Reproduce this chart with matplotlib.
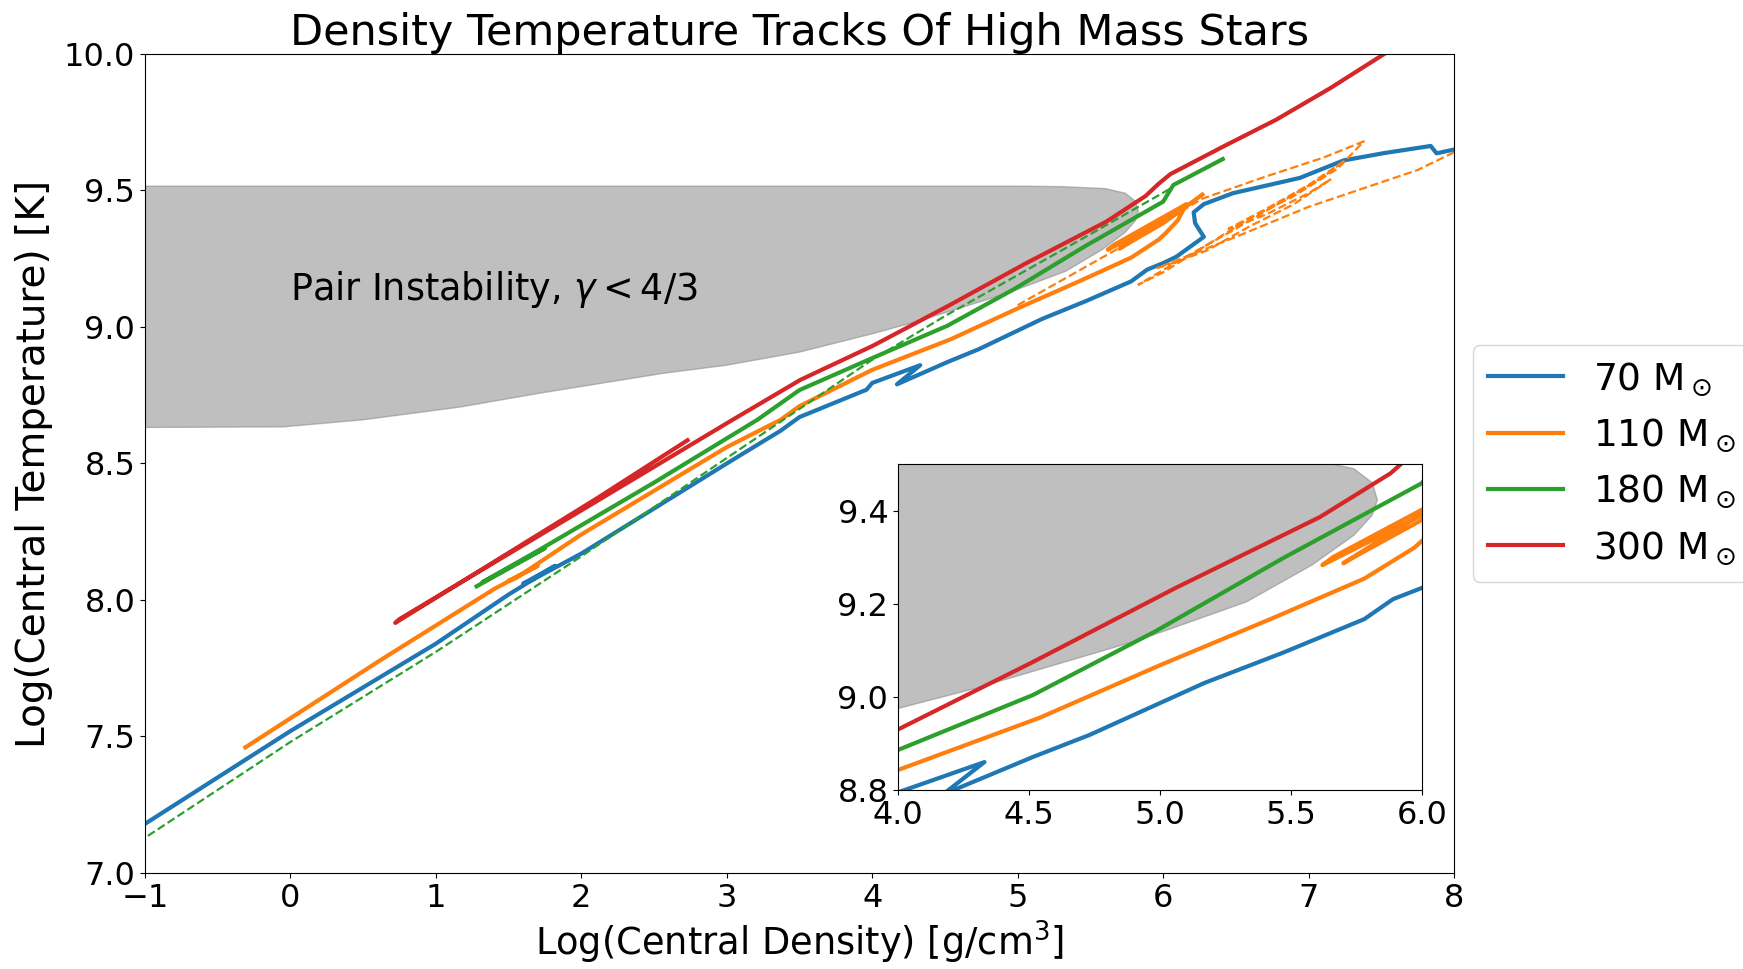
import matplotlib
matplotlib.use("Agg")
import matplotlib.pyplot as plt

# Pair instability region boundary (log rho, log T)
region_x = [-1, -0.05, 0.5, 1.17, 1.72, 2.56, 3.0, 3.5, 4.0, 4.30, 4.92, 5.33, 5.58,
            5.74, 5.81, 5.83, 5.81, 5.74, 5.6, 5.3, 5.0, -1]
region_y = [8.632, 8.634, 8.66, 8.707, 8.758, 8.83, 8.86, 8.908, 8.975, 9.019, 9.122, 9.204,
            9.283, 9.347, 9.39, 9.423, 9.46, 9.49, 9.507, 9.514, 9.516, 9.516]

# 70 Msun
blue_x = [-1, 0, 1, 1.5, 1.82, 1.6, 1.65, 2.0, 3.0, 3.37, 3.5, 3.96, 4.0, 4.33, 4.17, 4.515,
          4.73, 5.17, 5.47, 5.78, 5.89, 6.0, 6.09, 6.28, 6.22, 6.21, 6.28, 6.48, 6.94, 7.24,
          7.52, 7.84, 7.88, 8.0, 8.1]
blue_y = [7.18, 7.52, 7.84, 8.02, 8.125, 8.06, 8.07, 8.17, 8.50, 8.62, 8.67, 8.77, 8.795, 8.86,
          8.79, 8.871, 8.918, 9.03, 9.095, 9.167, 9.21, 9.234, 9.257, 9.33, 9.38, 9.42, 9.45,
          9.49, 9.546, 9.61, 9.637, 9.663, 9.636, 9.65, 9.68]

# 110 Msun
orange_x = [-0.31, 0.62, 1.4, 1.7, 1.5, 1.55, 2.0, 3.0, 3.37, 3.5, 4.0, 4.54, 5.0, 5.43, 5.78,
            5.97, 6.02, 6.1, 6.14, 5.62, 5.66, 6.16, 5.70, 5.74, 6.0, 6.27]
orange_y = [7.46, 7.78, 8.04, 8.125, 8.07, 8.08, 8.24, 8.56, 8.66, 8.71, 8.843, 8.955, 9.068,
            9.169, 9.254, 9.32, 9.345, 9.39, 9.43, 9.283, 9.30, 9.45, 9.287, 9.30, 9.38, 9.485]
orange_dash_x = [5.0, 5.4, 5.8, 6.27, 6.7, 7.1, 7.38, 7.2, 6.9, 6.6, 6.3, 6.0, 5.83, 6.1, 6.5,
                 6.85, 7.1, 7.25, 7.0, 6.7, 6.45, 6.7, 7.0, 7.15, 6.9, 6.6, 6.3, 6.1, 5.96, 6.5,
                 7.0, 7.5, 7.75, 8.0, 8.1]
orange_dash_y = [9.08, 9.20, 9.32, 9.47, 9.55, 9.62, 9.68, 9.58, 9.48, 9.40, 9.30, 9.20, 9.155,
                 9.24, 9.36, 9.47, 9.55, 9.61, 9.52, 9.43, 9.36, 9.41, 9.49, 9.54, 9.45, 9.37,
                 9.28, 9.24, 9.216, 9.33, 9.44, 9.53, 9.575, 9.64, 9.67]

# 180 Msun
green_x = [1.28, 1.75, 1.32, 1.7, 2.5, 3.21, 3.5, 4.0, 4.515, 4.98, 5.47, 6.0, 6.07, 6.41]
green_y = [8.05, 8.19, 8.065, 8.18, 8.43, 8.66, 8.769, 8.886, 9.004, 9.14, 9.298, 9.459, 9.52,
           9.615]
green_dash_x = [-0.98, 0, 1, 2, 3, 3.5, 4.0, 4.5, 5.0, 5.5, 6.06]
green_dash_y = [7.136, 7.48, 7.81, 8.16, 8.52, 8.70, 8.88, 9.04, 9.19, 9.34, 9.51]

# 300 Msun
red_x = [2.73, 2.1, 0.72, 0.75, 2.1, 3.04, 3.505, 4.0, 4.515, 5.06, 5.61, 5.88, 5.97, 6.05,
         6.41, 6.78, 7.15, 7.52, 7.7]
red_y = [8.585, 8.37, 7.916, 7.93, 8.36, 8.66, 8.806, 8.93, 9.075, 9.234, 9.386, 9.48, 9.525,
         9.56, 9.66, 9.76, 9.875, 10.0, 10.06]

labels = [r"70 M$_\odot$", r"110 M$_\odot$", r"180 M$_\odot$", r"300 M$_\odot$"]

fig = plt.figure(figsize=(17.43, 9.69), dpi=100)
ax = fig.add_axes([0.0832, 0.0991, 0.7510, 0.8452])

ax.fill(region_x, region_y, color="gray", alpha=0.5)
ax.text(0, 9.1, r"Pair Instability, $\gamma < 4/3$", fontsize=26.3)

ax.plot(blue_x, blue_y, color="C0", lw=3, label=labels[0])
ax.plot(orange_x, orange_y, color="C1", lw=3, label=labels[1])
ax.plot(orange_dash_x, orange_dash_y, color="C1", lw=1.6, ls="--")
ax.plot(green_x, green_y, color="C2", lw=3, label=labels[2])
ax.plot(green_dash_x, green_dash_y, color="C2", lw=1.6, ls="--")
ax.plot(red_x, red_y, color="C3", lw=3, label=labels[3])

ax.set_xlim(-1, 8)
ax.set_ylim(7, 10)
ax.set_xlabel(r"Log(Central Density) [g/cm$^3$]", fontsize=26.5)
ax.set_ylabel("Log(Central Temperature) [K]", fontsize=28, labelpad=8)
ax.set_title("Density Temperature Tracks Of High Mass Stars", fontsize=31)
ax.tick_params(labelsize=23)
ax.legend(loc="center left", bbox_to_anchor=(1, 0.5), fontsize=27)

# zoomed inset
ins = fig.add_axes([0.5152, 0.1847, 0.3006, 0.3364])
ins.fill(region_x, region_y, color="gray", alpha=0.5)
ins.plot(blue_x, blue_y, color="C0", lw=3)
ins.plot(orange_x, orange_y, color="C1", lw=3)
ins.plot(green_x, green_y, color="C2", lw=3)
ins.plot(red_x, red_y, color="C3", lw=3)
ins.set_xlim(4, 6)
ins.set_ylim(8.8, 9.5)
ins.set_xticks([4.0, 4.5, 5.0, 5.5, 6.0])
ins.set_yticks([8.8, 9.0, 9.2, 9.4])
ins.tick_params(labelsize=23)

fig.savefig("out.png", dpi=100)
